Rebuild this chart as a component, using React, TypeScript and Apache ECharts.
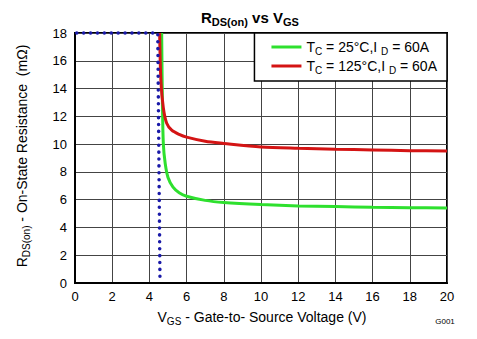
import React, { useEffect, useRef } from "react";
import * as echarts from "echarts";

const xTicks = [0, 2, 4, 6, 8, 10, 12, 14, 16, 18, 20];
const yTicks = [0, 2, 4, 6, 8, 10, 12, 14, 16, 18];

const green25: [number, number][] = [
  [4.66, 18], [4.7, 13], [4.75, 10], [4.85, 8.6], [5.0, 7.6], [5.27, 6.9], [5.6, 6.5],
  [6, 6.25], [7, 5.95], [8, 5.8], [10, 5.65], [12, 5.55], [14, 5.5], [16, 5.45], [18, 5.42], [20, 5.4],
];
const red125: [number, number][] = [
  [4.55, 18], [4.62, 14.5], [4.75, 12.6], [4.93, 11.5], [5.2, 11], [5.6, 10.7], [6, 10.5],
  [7, 10.2], [8, 10.05], [10, 9.8], [12, 9.7], [14, 9.63], [16, 9.58], [18, 9.53], [20, 9.5],
];
const dottedLimit: [number, number][] = [[-0.65, 18], [4.45, 18], [4.57, 0]];

const font = "'Liberation Sans', Arial, sans-serif";

export default function App() {
  const ref = useRef<HTMLDivElement>(null);
  useEffect(() => {
    if (!ref.current) return;
    const chart = echarts.init(ref.current, undefined, { renderer: "svg" });
    const legendRich = {
      n: { fontSize: 14, fontFamily: font, color: "#000" },
      s: { fontSize: 10, fontFamily: font, color: "#000", padding: [8, 0, 0, 0] },
    };
    chart.setOption({
      animation: false,
      backgroundColor: "#fff",
      textStyle: { fontFamily: font },
      grid: { left: 75, right: 30, top: 33, bottom: 56, show: true, borderColor: "#000", borderWidth: 2, backgroundColor: "transparent" },
      title: {
        text: "{b|R}{s|DS(on)}{b| vs V}{s|GS}",
        left: 196,
        top: 2,
        textStyle: {
          rich: {
            b: { fontSize: 15, fontWeight: "bold", fontFamily: font, color: "#000" },
            s: { fontSize: 11, fontWeight: "bold", fontFamily: font, color: "#000", padding: [9, 0, 0, 0] },
          },
        },
      },
      legend: {
        right: 30,
        top: 33,
        orient: "vertical",
        backgroundColor: "#fff",
        borderColor: "#000",
        borderWidth: 1.5,
        borderRadius: 0,
        padding: [7, 10, 6, 17],
        itemGap: 3,
        itemWidth: 30,
        itemHeight: 3,
        icon: "rect",
        data: ["g", "r"],
        formatter: (name: string) =>
          name === "g"
            ? "{n|T}{s|C}{n| = 25°C,I }{s|D}{n| = 60A}"
            : "{n|T}{s|C}{n| = 125°C,I }{s|D}{n| = 60A}",
        textStyle: { rich: legendRich },
      },
      xAxis: {
        type: "value",
        min: 0,
        max: 20,
        interval: 2,
        axisLine: { show: true, lineStyle: { color: "#000", width: 2 } },
        axisTick: { show: false },
        axisLabel: { color: "#000", fontSize: 13, fontFamily: font, margin: 7 },
        splitLine: { show: true, lineStyle: { color: "#444", width: 1 } },
      },
      yAxis: {
        type: "value",
        min: 0,
        max: 18,
        interval: 2,
        axisLine: { show: true, lineStyle: { color: "#000", width: 2 } },
        axisTick: { show: false },
        axisLabel: { color: "#000", fontSize: 13, fontFamily: font, margin: 8 },
        splitLine: { show: true, lineStyle: { color: "#444", width: 1 } },
      },
      series: [
        {
          name: "limit",
          type: "line",
          data: dottedLimit,
          showSymbol: false,
          clip: false,
          z: 5,
          lineStyle: { color: "#1a1aa8", width: 3.5, type: [0.1, 6.8], cap: "round" },
        },
        {
          name: "g",
          type: "line",
          data: green25,
          smooth: 0.3,
          showSymbol: false,
          z: 3,
          color: "#2ee02e",
          lineStyle: { color: "#2ee02e", width: 3 },
        },
        {
          name: "r",
          type: "line",
          data: red125,
          smooth: 0.3,
          showSymbol: false,
          z: 4,
          color: "#d41414",
          lineStyle: { color: "#d41414", width: 3 },
        },
      ],
      graphic: [
        {
          type: "text",
          x: 22,
          y: 156,
          rotation: Math.PI / 2,
          style: {
            text: "{n|R}{s|DS(on)}{n| - On-State Resistance  (mΩ)}",
            align: "center",
            verticalAlign: "middle",
            rich: {
              n: { fontSize: 14, fontFamily: font, fill: "#000" },
              s: { fontSize: 10, fontFamily: font, fill: "#000", padding: [8, 0, 0, 0] },
            },
          },
        },
        {
          type: "text",
          x: 262,
          y: 317,
          style: {
            text: "{n|V}{s|GS}{n| - Gate-to- Source Voltage (V)}",
            align: "center",
            verticalAlign: "middle",
            rich: {
              n: { fontSize: 14, fontFamily: font, fill: "#000" },
              s: { fontSize: 10, fontFamily: font, fill: "#000", padding: [8, 0, 0, 0] },
            },
          },
        },
        {
          type: "text",
          x: 445,
          y: 321,
          style: { text: "G001", align: "center", verticalAlign: "middle", fontSize: 8, fontFamily: font, fill: "#000" },
        },
      ],
    });
    return () => chart.dispose();
  }, []);
  return <div ref={ref} style={{ width: 477, height: 339, position: "absolute", left: 0, top: 0 }} />;
}
